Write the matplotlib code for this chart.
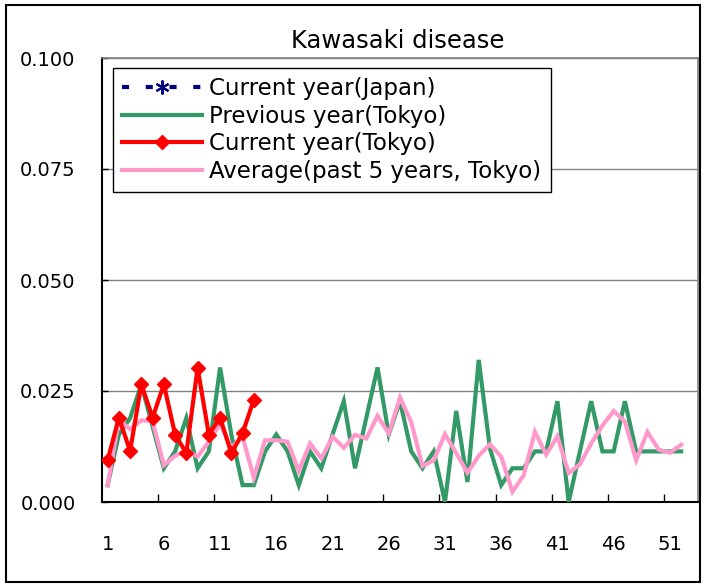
import matplotlib
matplotlib.use("Agg")
import matplotlib.pyplot as plt
from matplotlib.lines import Line2D
from matplotlib.patches import Rectangle

plt.rcParams['font.family'] = ['DejaVu Sans']

title = "Kawasaki disease"
series_names = ["Current year(Japan)", "Previous year(Tokyo)",
                "Current year(Tokyo)", "Average(past 5 years, Tokyo)"]

weeks_prev = list(range(1, 53))
prev_tokyo = [0.0038, 0.0152, 0.0189, 0.0265, 0.0170, 0.0076, 0.0114, 0.0189, 0.0076, 0.0114,
              0.0303, 0.0152, 0.0038, 0.0038, 0.0114, 0.0152, 0.0114, 0.0038, 0.0114, 0.0076,
              0.0152, 0.0227, 0.0076, 0.0189, 0.0303, 0.0152, 0.0227, 0.0114, 0.0076, 0.0114,
              0.0000, 0.0205, 0.0045, 0.0320, 0.0120, 0.0038, 0.0076, 0.0076, 0.0114, 0.0114,
              0.0227, 0.0000, 0.0114, 0.0227, 0.0114, 0.0114, 0.0227, 0.0114, 0.0114, 0.0114,
              0.0114, 0.0114]
avg_tokyo = [0.0037, 0.0185, 0.0164, 0.0184, 0.0182, 0.0083, 0.0104, 0.0117, 0.0102, 0.0136,
             0.0177, 0.0122, 0.0147, 0.0055, 0.0139, 0.0139, 0.0136, 0.0070, 0.0132, 0.0098,
             0.0147, 0.0122, 0.0151, 0.0143, 0.0194, 0.0154, 0.0235, 0.0180, 0.0081, 0.0094,
             0.0153, 0.0110, 0.0066, 0.0104, 0.0130, 0.0102, 0.0023, 0.0060, 0.0158, 0.0107,
             0.0148, 0.0065, 0.0085, 0.0132, 0.0172, 0.0205, 0.0181, 0.0094, 0.0158, 0.0118,
             0.0111, 0.0129]
weeks_cur = list(range(1, 15))
cur_tokyo = [0.0094, 0.0190, 0.0115, 0.0265, 0.0190, 0.0265, 0.0152, 0.0110, 0.0302, 0.0152,
             0.0190, 0.0110, 0.0155, 0.0230]

x_labels = [1, 6, 11, 16, 21, 26, 31, 36, 41, 46, 51]
y_ticks = [0.0, 0.025, 0.05, 0.075, 0.1]

W, H = 704, 585
fig = plt.figure(figsize=(W / 100, H / 100), dpi=100)
ax = fig.add_axes([102 / W, 1 - 502 / H, (698 - 102) / W, (502 - 58) / H])

ax.plot(weeks_prev, prev_tokyo, color='#339966', lw=3, zorder=3, solid_joinstyle='miter')
ax.plot(weeks_prev, avg_tokyo, color='#FF99CC', lw=3, zorder=4, solid_joinstyle='miter')
ax.plot(weeks_cur, cur_tokyo, color='#FF0000', lw=3, marker='D', ms=7,
        mec='#FF0000', mfc='#FF0000', zorder=5)

ax.set_xlim(0.5, 53.5)
ax.set_ylim(0, 0.1)
ax.set_yticks(y_ticks)
ax.set_yticklabels([f"{v:.3f}" for v in y_ticks])
ax.set_xticks(x_labels)
ax.set_xticklabels([str(v) for v in x_labels])
ax.set_xticks([5.5 + 5 * i for i in range(10)], minor=True)
ax.tick_params(axis='x', which='major', length=0, pad=24, labelsize=14)
ax.tick_params(axis='x', which='minor', direction='in', length=6, width=1, color='black')
ax.tick_params(axis='y', direction='in', length=4, width=1, pad=19, labelsize=14)
ax.grid(axis='y', color='#808080', lw=1)
ax.set_axisbelow(True)
for s in ['top', 'right']:
    ax.spines[s].set_color('#808080')
    ax.spines[s].set_linewidth(1.2)
for s in ['left', 'bottom']:
    ax.spines[s].set_color('black')
    ax.spines[s].set_linewidth(1.5)

fig.text(398 / W, 1 - 41 / H, title, ha='center', va='center', fontsize=17.5)

handles = [
    Line2D([], [], color='#000080', lw=3, ls=(0, (1.7, 4.0)), marker=(6, 2, 0), ms=10,
           mec='#000080', mew=1.5),
    Line2D([], [], color='#339966', lw=3),
    Line2D([], [], color='#FF0000', lw=3, marker='D', ms=7, mec='#FF0000'),
    Line2D([], [], color='#FF99CC', lw=3),
]
leg = ax.legend(handles, series_names, loc='upper left',
                bbox_to_anchor=(113 / W, 1 - 68 / H), bbox_transform=fig.transFigure,
                borderaxespad=0, fontsize=16.5, handlelength=3.5, handletextpad=0.3,
                labelspacing=0.2, borderpad=0.4, fancybox=False, framealpha=1,
                edgecolor='black')
leg.get_frame().set_linewidth(1.0)
leg.set_zorder(10)

fig.patches.append(Rectangle((6 / W, 1 - 582 / H), (700 - 6) / W, (582 - 5) / H,
                             transform=fig.transFigure, fill=False, edgecolor='black', lw=1.5))

fig.savefig("out.png", dpi=100)
